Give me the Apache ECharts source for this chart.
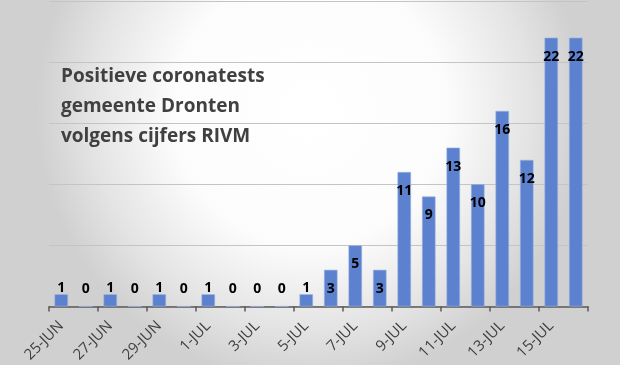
<!DOCTYPE html>
<html>
<head>
<meta charset="utf-8">
<script src="https://cdn.jsdelivr.net/npm/echarts@6/dist/echarts.min.js"></script>
<style>
html,body{margin:0;padding:0;}
#c{width:620px;height:365px;}
</style>
</head>
<body>
<div id="c"></div>
<script>
var categories = ['25-JUN','26-JUN','27-JUN','28-JUN','29-JUN','30-JUN','1-JUL','2-JUL','3-JUL','4-JUL','5-JUL','6-JUL','7-JUL','8-JUL','9-JUL','10-JUL','11-JUL','12-JUL','13-JUL','14-JUL','15-JUL','16-JUL'];
var cases = [1,0,1,0,1,0,1,0,0,0,1,3,5,3,11,9,13,10,16,12,22,22];
var titleLines = ['Positieve coronatests','gemeente Dronten','volgens cijfers RIVM'];

var chart = echarts.init(document.getElementById('c'), null, {renderer:'canvas'});
var data = cases.map(function(v){
  if (v <= 1) {
    return {value: v, label: {position: 'insideBottom', distance: 11}};
  }
  return {value: v, label: {position: 'insideTop', distance: 12}};
});
chart.setOption({
  animation: false,
  graphic: [{
    type: 'rect', z: -10, silent: true,
    shape: {x: 0, y: 0, width: 620, height: 365},
    style: {fill: new echarts.graphic.RadialGradient(0.5, 0.3, 0.75, [
      {offset: 0, color: '#ffffff'},
      {offset: 0.5, color: '#fcfcfc'},
      {offset: 0.8, color: '#e4e4e4'},
      {offset: 1, color: '#d0d0d0'}
    ])}
  }, {
    type: 'text', left: 61, top: 62, z: 10,
    style: {
      text: titleLines.join('\n'),
      font: 'bold 19px "Open Sans"',
      lineHeight: 30,
      fill: '#404040'
    }
  }],
  grid: {left: 49, right: 32, top: 1, bottom: 58, containLabel: false},
  xAxis: {
    type: 'category',
    data: categories,
    axisLine: {lineStyle: {color: '#595959', width: 1.5}},
    axisTick: {show: true, interval: 1, length: 5, lineStyle: {color: '#595959', width: 1.5}},
    axisLabel: {interval: 1, rotate: 45, color: '#404040', fontSize: 15, fontFamily: '"Open Sans"', margin: 17}
  },
  yAxis: {
    type: 'value', min: 0, max: 25, interval: 5,
    axisLabel: {show: false},
    axisLine: {show: false},
    axisTick: {show: false},
    splitLine: {lineStyle: {color: '#c4c4c4', width: 1.2}}
  },
  series: [{
    type: 'bar',
    data: data,
    barWidth: '55%',
    itemStyle: {color: '#5b81cf', borderColor: '#9bb3e3', borderWidth: 0.6},
    label: {show: true, color: '#000000', fontSize: 14, fontWeight: 'bold', fontFamily: '"Open Sans"'}
  }]
});
</script>
</body>
</html>
